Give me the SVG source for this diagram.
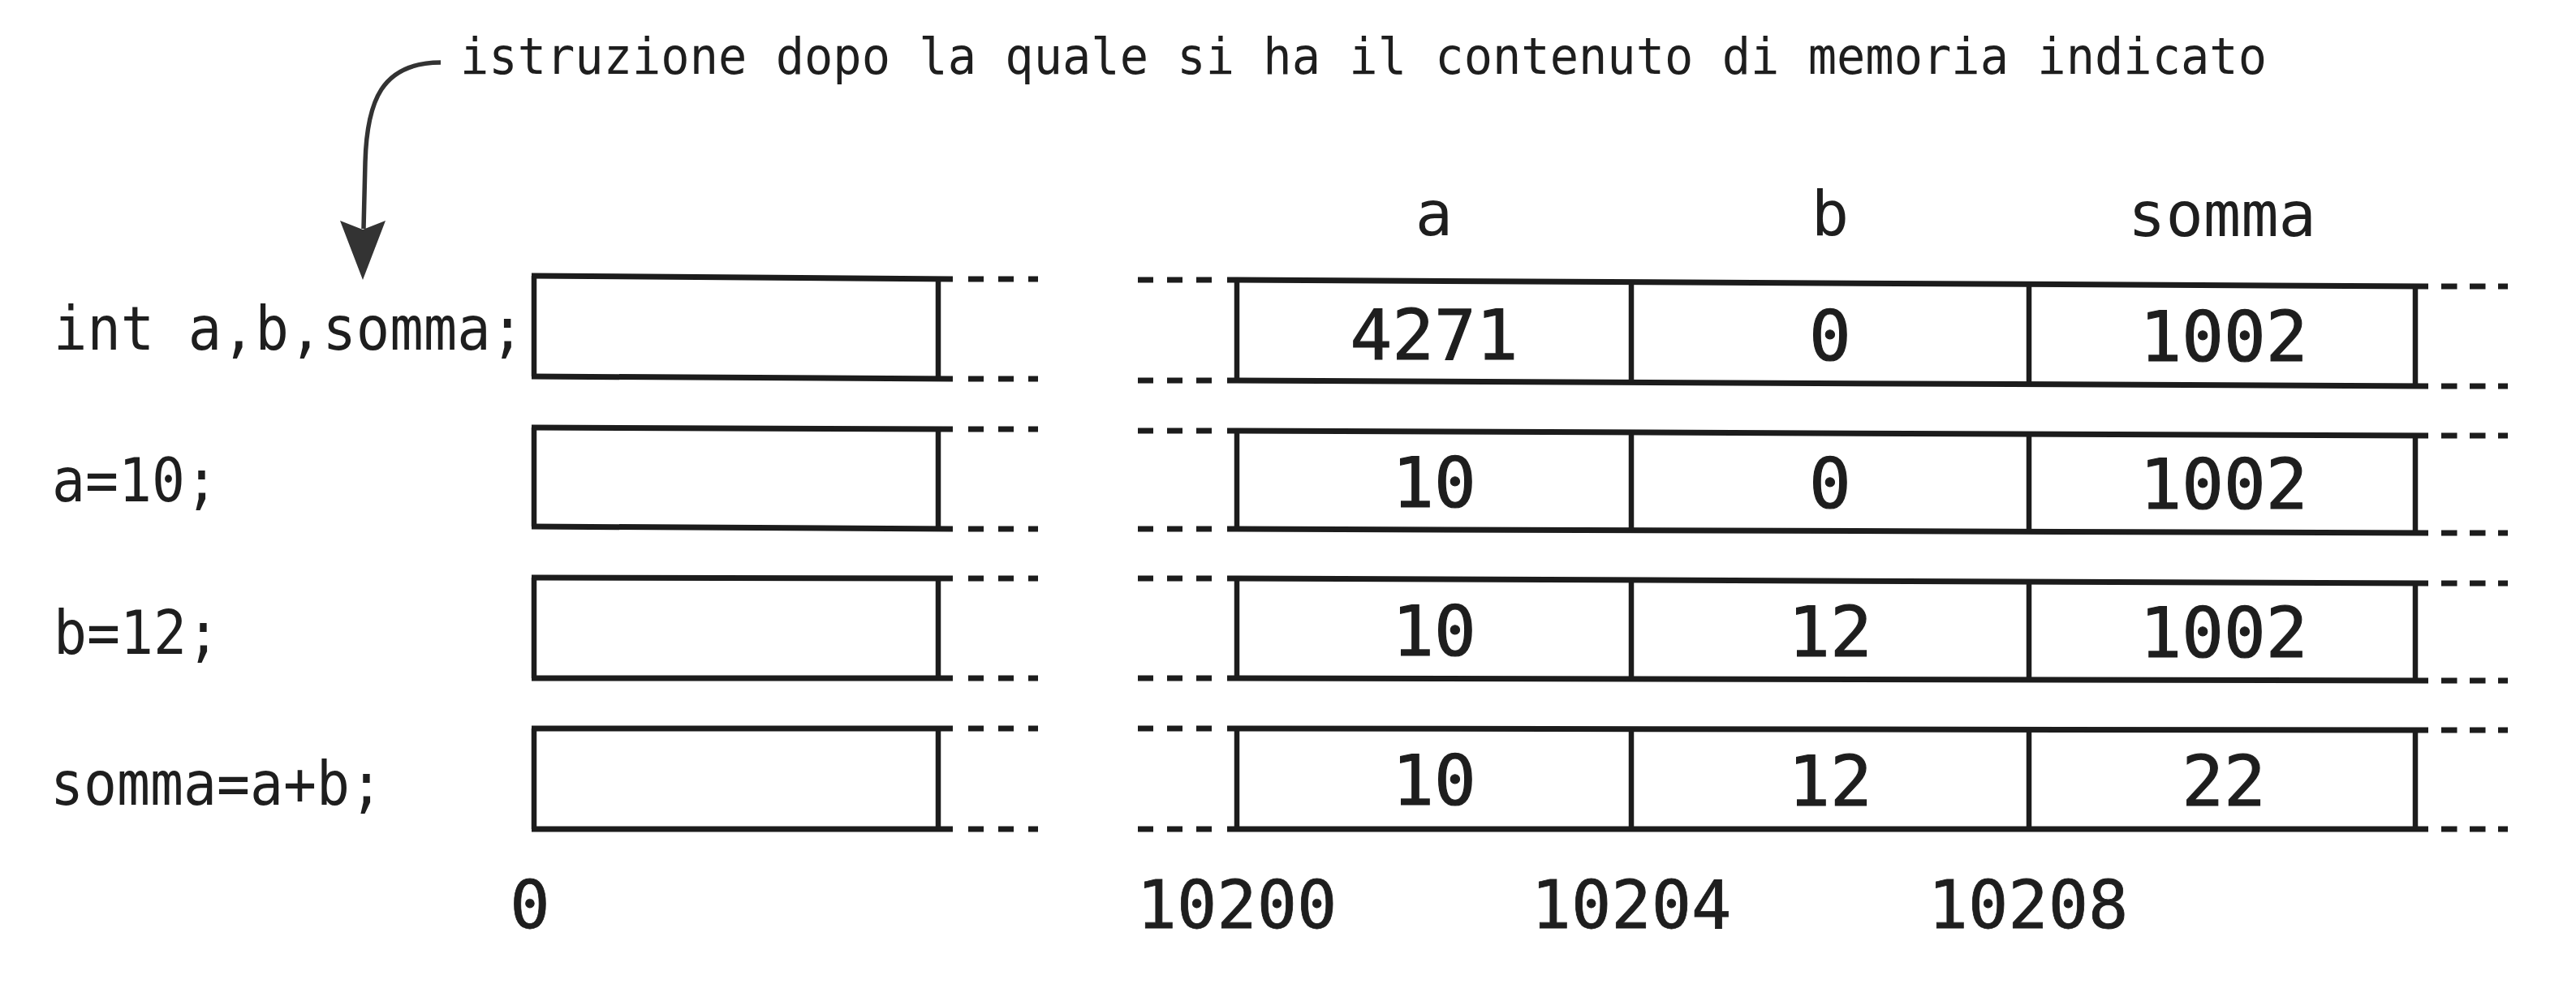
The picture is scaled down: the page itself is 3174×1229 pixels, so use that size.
<svg xmlns="http://www.w3.org/2000/svg" width="3174" height="1229" viewBox="0 0 3174 1229">
<style>
  .t { font-family: "DejaVu Sans Mono", "Liberation Mono", monospace; fill: #1e1e1e; }
  .cap { font-size: 63px; }
  .lbl { font-size: 74px; }
  .hdr { font-size: 77px; text-anchor: middle; }
  .val { font-size: 86px; text-anchor: middle; stroke: #1e1e1e; stroke-width: 1.2; }
  .adr { font-size: 82px; text-anchor: middle; stroke: #1e1e1e; stroke-width: 0.8; }
  .h { stroke: #1c1c1c; stroke-width: 7; fill: none; }
  .v { stroke: #1c1c1c; stroke-width: 6.5; fill: none; }
  .dl { stroke: #1c1c1c; stroke-width: 7; stroke-dasharray: 19 18; fill: none; }
  .dr { stroke: #1c1c1c; stroke-width: 7; stroke-dasharray: 19 17; fill: none; }
  .de { stroke: #1c1c1c; stroke-width: 7; stroke-dasharray: 19.5 15.5; fill: none; }
  .arr { stroke: #333; stroke-width: 5.5; fill: none; }
</style>
<rect width="3174" height="1229" fill="#ffffff"/>

<g id="caption">
  <text class="t cap" x="567" y="91" textLength="2226" lengthAdjust="spacingAndGlyphs">istruzione dopo la quale si ha il contenuto di memoria indicato</text>
</g>

<g id="connectors">
  <path class="arr" d="M543,77 C470,77 452,125 450,200 L448,282"/>
  <polygon points="419,272 447,283 475,272 447,345" fill="#333"/>
</g>

<g id="headers">
  <text class="t hdr" x="1767" y="290">a</text>
  <text class="t hdr" x="2255" y="290">b</text>
  <text class="t hdr" x="2738" y="291">somma</text>
</g>

<!-- Row 1 -->
<g id="row1">
  <text class="t lbl" x="66" y="431" textLength="580" lengthAdjust="spacingAndGlyphs">int a,b,somma;</text>
  <g id="row1-left">
    <line class="h" x1="655" y1="340" x2="1174" y2="344"/>
    <line class="h" x1="655" y1="464" x2="1174" y2="467"/>
    <line class="v" x1="658" y1="340" x2="658" y2="464"/>
    <line class="v" x1="1156" y1="344" x2="1156" y2="467"/>
    <line class="dl" x1="1193" y1="344" x2="1279" y2="344"/>
    <line class="dl" x1="1193" y1="467" x2="1279" y2="467"/>
  </g>
  <g id="row1-right">
    <line class="dr" x1="1402" y1="345" x2="1493" y2="345"/>
    <line class="dr" x1="1402" y1="469" x2="1493" y2="469"/>
    <line class="h" x1="1512" y1="345" x2="2992" y2="353"/>
    <line class="h" x1="1512" y1="469" x2="2992" y2="476"/>
    <line class="v" x1="1524" y1="345" x2="1524" y2="469"/>
    <line class="v" x1="2010" y1="347.7" x2="2010" y2="471.3"/>
    <line class="v" x1="2500" y1="350.4" x2="2500" y2="473.7"/>
    <line class="v" x1="2976" y1="353" x2="2976" y2="476"/>
    <line class="de" x1="3008" y1="353" x2="3090" y2="353"/>
    <line class="de" x1="3008" y1="476" x2="3090" y2="476"/>
    <text class="t val" x="1767" y="443">4271</text>
    <text class="t val" x="2255" y="444">0</text>
    <text class="t val" x="2740" y="445">1002</text>
  </g>
</g>

<!-- Row 2 -->
<g id="row2">
  <text class="t lbl" x="64" y="618" textLength="205" lengthAdjust="spacingAndGlyphs">a=10;</text>
  <g id="row2-left">
    <line class="h" x1="655" y1="527" x2="1174" y2="529"/>
    <line class="h" x1="655" y1="649" x2="1174" y2="652"/>
    <line class="v" x1="658" y1="527" x2="658" y2="649"/>
    <line class="v" x1="1156" y1="529" x2="1156" y2="652"/>
    <line class="dl" x1="1193" y1="529" x2="1279" y2="529"/>
    <line class="dl" x1="1193" y1="652" x2="1279" y2="652"/>
  </g>
  <g id="row2-right">
    <line class="dr" x1="1402" y1="531" x2="1493" y2="531"/>
    <line class="dr" x1="1402" y1="652" x2="1493" y2="652"/>
    <line class="h" x1="1512" y1="531" x2="2992" y2="537"/>
    <line class="h" x1="1512" y1="652" x2="2992" y2="657"/>
    <line class="v" x1="1524" y1="531" x2="1524" y2="652"/>
    <line class="v" x1="2010" y1="533" x2="2010" y2="653.7"/>
    <line class="v" x1="2500" y1="535" x2="2500" y2="655.4"/>
    <line class="v" x1="2976" y1="537" x2="2976" y2="657"/>
    <line class="de" x1="3008" y1="537" x2="3090" y2="537"/>
    <line class="de" x1="3008" y1="657" x2="3090" y2="657"/>
    <text class="t val" x="1767" y="625">10</text>
    <text class="t val" x="2255" y="626">0</text>
    <text class="t val" x="2740" y="627">1002</text>
  </g>
</g>

<!-- Row 3 -->
<g id="row3">
  <text class="t lbl" x="66" y="806" textLength="205" lengthAdjust="spacingAndGlyphs">b=12;</text>
  <g id="row3-left">
    <line class="h" x1="655" y1="712" x2="1174" y2="713"/>
    <line class="h" x1="655" y1="836" x2="1174" y2="836"/>
    <line class="v" x1="658" y1="712" x2="658" y2="836"/>
    <line class="v" x1="1156" y1="713" x2="1156" y2="836"/>
    <line class="dl" x1="1193" y1="713" x2="1279" y2="713"/>
    <line class="dl" x1="1193" y1="836" x2="1279" y2="836"/>
  </g>
  <g id="row3-right">
    <line class="dr" x1="1402" y1="713" x2="1493" y2="713"/>
    <line class="dr" x1="1402" y1="836" x2="1493" y2="836"/>
    <line class="h" x1="1512" y1="713" x2="2992" y2="719"/>
    <line class="h" x1="1512" y1="836" x2="2992" y2="839"/>
    <line class="v" x1="1524" y1="713" x2="1524" y2="836"/>
    <line class="v" x1="2010" y1="715" x2="2010" y2="837"/>
    <line class="v" x1="2500" y1="717" x2="2500" y2="838"/>
    <line class="v" x1="2976" y1="719" x2="2976" y2="839"/>
    <line class="de" x1="3008" y1="719" x2="3090" y2="719"/>
    <line class="de" x1="3008" y1="839" x2="3090" y2="839"/>
    <text class="t val" x="1767" y="808">10</text>
    <text class="t val" x="2255" y="809">12</text>
    <text class="t val" x="2740" y="810">1002</text>
  </g>
</g>

<!-- Row 4 -->
<g id="row4">
  <text class="t lbl" x="62" y="992" textLength="410" lengthAdjust="spacingAndGlyphs">somma=a+b;</text>
  <g id="row4-left">
    <line class="h" x1="655" y1="898" x2="1174" y2="898"/>
    <line class="h" x1="655" y1="1022" x2="1174" y2="1022"/>
    <line class="v" x1="658" y1="898" x2="658" y2="1022"/>
    <line class="v" x1="1156" y1="898" x2="1156" y2="1022"/>
    <line class="dl" x1="1193" y1="898" x2="1279" y2="898"/>
    <line class="dl" x1="1193" y1="1022" x2="1279" y2="1022"/>
  </g>
  <g id="row4-right">
    <line class="dr" x1="1402" y1="898" x2="1493" y2="898"/>
    <line class="dr" x1="1402" y1="1022" x2="1493" y2="1022"/>
    <line class="h" x1="1512" y1="898" x2="2992" y2="900"/>
    <line class="h" x1="1512" y1="1022" x2="2992" y2="1022"/>
    <line class="v" x1="1524" y1="898" x2="1524" y2="1022"/>
    <line class="v" x1="2010" y1="898.7" x2="2010" y2="1022"/>
    <line class="v" x1="2500" y1="899.3" x2="2500" y2="1022"/>
    <line class="v" x1="2976" y1="900" x2="2976" y2="1022"/>
    <line class="de" x1="3008" y1="900" x2="3090" y2="900"/>
    <line class="de" x1="3008" y1="1022" x2="3090" y2="1022"/>
    <text class="t val" x="1767" y="992">10</text>
    <text class="t val" x="2255" y="993">12</text>
    <text class="t val" x="2740" y="993">22</text>
  </g>
</g>

<g id="addresses">
  <text class="t adr" x="653" y="1144">0</text>
  <text class="t adr" x="1524" y="1144">10200</text>
  <text class="t adr" x="2010" y="1144">10204</text>
  <text class="t adr" x="2499" y="1144">10208</text>
</g>
</svg>
